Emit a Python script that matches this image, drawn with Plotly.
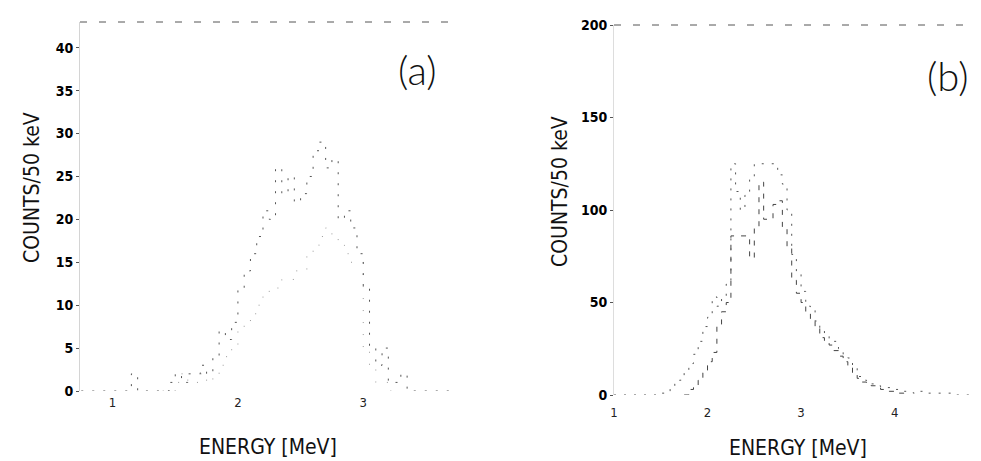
import plotly.graph_objects as go

# ---------------- data (bin left edges in MeV, counts per 50 keV) ----------------
a_energy = [0.75, 0.80, 0.85, 0.90, 0.95, 1.00, 1.05, 1.10, 1.15, 1.20, 1.25, 1.30,
            1.35, 1.40, 1.45, 1.50, 1.55, 1.60, 1.65, 1.70, 1.75, 1.80, 1.85, 1.90,
            1.95, 2.00, 2.05, 2.10, 2.15, 2.20, 2.25, 2.30, 2.35, 2.40, 2.45, 2.50,
            2.55, 2.60, 2.65, 2.70, 2.75, 2.80, 2.85, 2.90, 2.95, 3.00, 3.05, 3.10,
            3.15, 3.20, 3.25, 3.30, 3.35, 3.40, 3.45, 3.50, 3.55, 3.60, 3.65, 3.70]
a_counts = [0, 0, 0, 0, 0, 0, 0, 0, 2, 0, 0, 0,
            0, 0, 1, 2, 1, 2, 2, 3, 2, 4, 7, 6,
            8, 12, 14, 16, 18, 21, 20, 26, 23, 25, 22, 23,
            25, 28, 29, 26, 27, 20, 21, 19, 16, 12, 5, 3,
            5, 1, 1, 2, 0, 0, 0, 0, 0, 0, 0, 0]

a2_energy = [1.40, 1.45, 1.50, 1.55, 1.60, 1.65, 1.70, 1.75, 1.80, 1.85, 1.90, 1.95,
             2.00, 2.05, 2.10, 2.15, 2.20, 2.25, 2.30, 2.35, 2.40, 2.45, 2.50, 2.55,
             2.60, 2.65, 2.70, 2.75, 2.80, 2.85, 2.90, 2.95, 3.00, 3.05, 3.10, 3.15, 3.20]
a2_counts = [0, 0, 1, 2, 1, 1, 2, 1, 2, 3, 4, 5,
             7, 8, 9, 10, 11, 12, 12, 13, 13, 14, 14, 16,
             17, 18, 19, 18, 17, 16, 15, 15, 5, 3, 1, 1, 0]

b_energy = [1.00, 1.05, 1.10, 1.15, 1.20, 1.25, 1.30, 1.35, 1.40, 1.45, 1.50, 1.55,
            1.60, 1.65, 1.70, 1.75, 1.80, 1.85, 1.90, 1.95, 2.00, 2.05, 2.10, 2.15,
            2.20, 2.25, 2.30, 2.35, 2.40, 2.45, 2.50, 2.55, 2.60, 2.65, 2.70, 2.75,
            2.80, 2.85, 2.90, 2.95, 3.00, 3.05, 3.10, 3.15, 3.20, 3.25, 3.30, 3.35,
            3.40, 3.45, 3.50, 3.55, 3.60, 3.65, 3.70, 3.75, 3.80, 3.85, 3.90, 3.95,
            4.00, 4.05, 4.10, 4.15, 4.20, 4.25, 4.30, 4.35, 4.40, 4.45, 4.50, 4.55,
            4.60, 4.65, 4.70, 4.75, 4.80, 4.85, 4.90, 4.95]
b_counts = [0, 0, 0, 0, 0, 0, 0, 0, 0, 1, 1, 2,
            4, 6, 8, 12, 17, 22, 29, 37, 42, 53, 48, 52,
            60, 125, 110, 100, 108, 118, 125, 125, 125, 125, 125, 119,
            114, 100, 76, 66, 56, 48, 47, 40, 35, 33, 30, 29,
            25, 22, 20, 15, 10, 8, 7, 6, 5, 4, 4, 3,
            3, 2, 2, 2, 1, 2, 1, 1, 1, 1, 1, 1,
            0, 0, 0, 0, 0, 0, 0, 0]

b2_energy = [1.75, 1.80, 1.85, 1.90, 1.95, 2.00, 2.05, 2.10, 2.15, 2.20, 2.25, 2.30,
             2.35, 2.40, 2.45, 2.50, 2.55, 2.60, 2.65, 2.70, 2.75, 2.80, 2.85, 2.90,
             2.95, 3.00, 3.05, 3.10, 3.15, 3.20, 3.25, 3.30, 3.35, 3.40, 3.45, 3.50,
             3.55, 3.60, 3.65, 3.70, 3.75, 3.80, 3.85, 3.90, 3.95, 4.00, 4.05, 4.10]
b2_counts = [0, 3, 5, 8, 12, 18, 23, 38, 45, 50, 86, 86,
             86, 86, 74, 90, 115, 95, 95, 103, 105, 90, 80, 62,
             55, 50, 45, 40, 36, 31, 29, 27, 24, 21, 18, 15,
             12, 9, 7, 6, 5, 4, 3, 2, 2, 1, 1, 0]

a_xticks = [1, 2, 3]
a_yticks = [0, 5, 10, 15, 20, 25, 30, 35, 40]
b_xticks = [1, 2, 3, 4, 5]
b_yticks = [0, 50, 100, 150, 200]
BIN = 0.05


def step_xy(edges, counts):
    xs = list(edges) + [edges[-1] + BIN]
    ys = list(counts) + [counts[-1]]
    return xs, ys


W, H = 981, 461
FAM = "DejaVu Sans Condensed, Liberation Sans Narrow, Roboto, DejaVu Sans"
ytickfont = dict(family=FAM, size=14, color="#000", weight="bold")
xtickfont = dict(family=FAM, size=13, color="#222")

fig = go.Figure()

for (e, c, dash, col, xa, ya) in [
    (a2_energy, a2_counts, "1px,11px", "#9a9a9a", "x", "y"),
    (a_energy, a_counts, "2px,9px", "#555", "x", "y"),
    (b2_energy, b2_counts, "5px,7px", "#444", "x2", "y2"),
    (b_energy, b_counts, "2px,8px", "#555", "x2", "y2"),
]:
    xs, ys = step_xy(e, c)
    fig.add_trace(go.Scatter(x=xs, y=ys, mode="lines", line_shape="hv",
                             line=dict(color=col, width=1, dash=dash),
                             xaxis=xa, yaxis=ya, showlegend=False, hoverinfo="skip"))

xcommon = dict(showgrid=False, zeroline=False, ticks="", tickfont=xtickfont,
               automargin=False, showline=False, ticklabeloverflow="allow")
ycommon = dict(showgrid=False, zeroline=False, ticks="outside", ticklen=3,
               tickcolor="#555", tickfont=ytickfont, automargin=False,
               showline=True, linewidth=1)
fig.update_layout(
    width=W, height=H,
    margin=dict(l=0, r=0, t=0, b=0),
    paper_bgcolor="white", plot_bgcolor="white",
    xaxis=dict(domain=[72 / W, 448 / W], range=[0.74, 3.74], tickvals=a_xticks,
               anchor="y", ticklabelstandoff=2, **xcommon),
    yaxis=dict(domain=[1 - 383 / H, 1 - 14 / H], range=[0, 43], tickvals=a_yticks,
               anchor="x", linecolor="#d4d4d4", **ycommon),
    xaxis2=dict(domain=[606 / W, 0.9995], range=[1, 5.004], tickvals=b_xticks,
                anchor="y2", ticklabelstandoff=8, **xcommon),
    yaxis2=dict(domain=[1 - 387 / H, 1 - 17 / H], range=[0, 200], tickvals=b_yticks,
                anchor="x2", linecolor="#dddddd", **ycommon),
)

# dashed top frame lines
for xr, yr in [("x domain", "y domain"), ("x2 domain", "y2 domain")]:
    fig.add_shape(type="line", xref=xr, yref=yr, x0=0, x1=1, y0=1, y1=1,
                  line=dict(color="#555", width=1, dash="7px,12px"))

title_font = dict(family=FAM, size=21, color="#111")
label_font = dict(family="Lato, DejaVu Sans", size=40, color="#111", weight=300)

annots = [
    dict(text="COUNTS/50 keV", x=24 / W, y=1 - 180 / H, textangle=-90, font=title_font),
    dict(text="COUNTS/50 keV", x=552 / W, y=1 - 184 / H, textangle=-90, font=title_font),
    dict(text="ENERGY [MeV]", x=260 / W, y=1 - 439 / H, font=title_font),
    dict(text="ENERGY [MeV]", x=790 / W, y=1 - 440 / H, font=title_font),
    dict(text="(a)", x=409 / W, y=1 - 62 / H, font=label_font),
    dict(text="(b)", x=939 / W, y=1 - 68 / H, font=label_font),
]
for an in annots:
    fig.add_annotation(xref="paper", yref="paper", showarrow=False,
                       xanchor="center", yanchor="middle", **an)

fig.write_html("out.html")
